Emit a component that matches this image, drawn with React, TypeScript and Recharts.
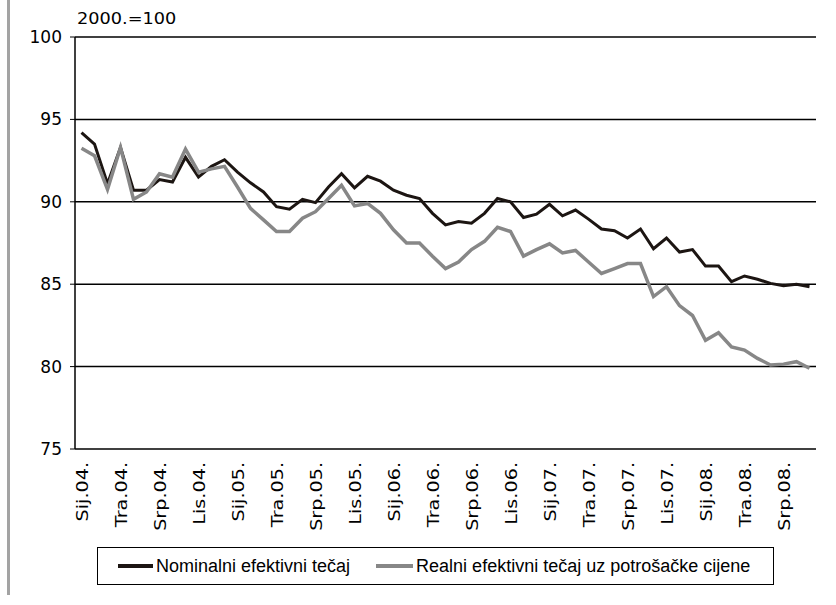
import { LineChart, Line, XAxis, YAxis, CartesianGrid } from "recharts";

// mjeseci od Sij.04. do Ruj.08.
const months = [
  "Sij.04.", "Vlj.04.", "Ožu.04.", "Tra.04.", "Svi.04.", "Lip.04.", "Srp.04.", "Kol.04.", "Ruj.04.", "Lis.04.", "Stu.04.", "Pro.04.",
  "Sij.05.", "Vlj.05.", "Ožu.05.", "Tra.05.", "Svi.05.", "Lip.05.", "Srp.05.", "Kol.05.", "Ruj.05.", "Lis.05.", "Stu.05.", "Pro.05.",
  "Sij.06.", "Vlj.06.", "Ožu.06.", "Tra.06.", "Svi.06.", "Lip.06.", "Srp.06.", "Kol.06.", "Ruj.06.", "Lis.06.", "Stu.06.", "Pro.06.",
  "Sij.07.", "Vlj.07.", "Ožu.07.", "Tra.07.", "Svi.07.", "Lip.07.", "Srp.07.", "Kol.07.", "Ruj.07.", "Lis.07.", "Stu.07.", "Pro.07.",
  "Sij.08.", "Vlj.08.", "Ožu.08.", "Tra.08.", "Svi.08.", "Lip.08.", "Srp.08.", "Kol.08.", "Ruj.08.",
];

const nominal = [
  94.2, 93.5, 91.1, 93.3, 90.7, 90.7, 91.35, 91.2, 92.7, 91.5, 92.15, 92.55,
  91.8, 91.15, 90.6, 89.7, 89.55, 90.15, 89.95, 90.9, 91.7, 90.85, 91.55, 91.25,
  90.7, 90.4, 90.2, 89.3, 88.6, 88.8, 88.7, 89.3, 90.2, 90.0, 89.05, 89.25,
  89.85, 89.15, 89.5, 88.95, 88.35, 88.25, 87.8, 88.35, 87.15, 87.8, 86.95, 87.1,
  86.1, 86.1, 85.15, 85.5, 85.3, 85.05, 84.9, 85.0, 84.85,
];

const real = [
  93.25, 92.8, 90.75, 93.3, 90.15, 90.6, 91.7, 91.5, 93.2, 91.8, 92.0, 92.15,
  90.9, 89.6, 88.9, 88.2, 88.2, 89.0, 89.4, 90.2, 91.0, 89.75, 89.9, 89.3,
  88.3, 87.5, 87.5, 86.7, 85.95, 86.35, 87.1, 87.6, 88.45, 88.2, 86.7, 87.1,
  87.45, 86.9, 87.05, 86.35, 85.65, 85.95, 86.25, 86.25, 84.25, 84.85, 83.7, 83.1,
  81.6, 82.05, 81.2, 81.0, 80.5, 80.1, 80.15, 80.3, 79.9,
];

const yTicks = [75, 80, 85, 90, 95, 100];
const labelledMonths = ["Sij", "Tra", "Srp", "Lis"];
const seriesNames = ["Nominalni efektivni tečaj", "Realni efektivni tečaj uz potrošačke cijene"];
const unitLabel = "2000.=100";

const data = months.map((m, i) => ({ idx: i, month: m, nominal: nominal[i], real: real[i] }));
const labelTicks = months
  .map((m, i) => (labelledMonths.includes(m.slice(0, 3)) ? i : -1))
  .filter((i) => i >= 0);
const boundaryTicks = months.map((_, i) => i - 0.5).concat(months.length - 0.5);
const xDomain = [-0.5, months.length - 0.5];

const BLACK = "#1c1512";
const GRAY = "#878787";
const FONT = "DejaVu Sans, Verdana, sans-serif";

const MonthTick = (props: any) => {
  const { x, y, payload } = props;
  const cx = x + 1;
  // labels in the original are stretched along their length
  return (
    <text
      x={0}
      y={0}
      transform={`translate(${cx}, ${y}) rotate(-90) scale(1.28, 1)`}
      textAnchor="end"
      dominantBaseline="central"
      fontFamily={FONT}
      fontSize={15}
      fill="#000"
    >
      {months[payload.value]}
    </text>
  );
};

export default function App() {
  return (
    <div style={{ position: "absolute", left: 0, top: 0, width: 836, height: 605, background: "#fff" }}>
      <div style={{ position: "absolute", left: 7, top: 0, width: 3, height: 595, background: "#a3a3a3" }} />
      <div
        style={{
          position: "absolute",
          left: 77,
          top: 10,
          fontFamily: FONT,
          fontSize: 15,
          color: "#000",
          transform: "scaleX(1.18)",
          transformOrigin: "left top",
        }}
      >
        {unitLabel}
      </div>
      <LineChart width={836} height={605} data={data} margin={{ top: 37, right: 20, left: 0, bottom: 56 }}>
        <CartesianGrid vertical={false} stroke="#000" strokeWidth={1.5} />
        <XAxis
          xAxisId="t"
          type="number"
          dataKey="idx"
          domain={xDomain}
          ticks={boundaryTicks}
          tick={false}
          tickSize={5}
          height={0}
          axisLine={{ stroke: "#000", strokeWidth: 1.5 }}
          tickLine={{ stroke: "#000", strokeWidth: 1 }}
          allowDataOverflow
        />
        <XAxis
          type="number"
          dataKey="idx"
          domain={xDomain}
          ticks={labelTicks}
          interval={0}
          tick={<MonthTick />}
          tickLine={false}
          axisLine={false}
          tickSize={0}
          tickMargin={13}
          height={100}
          allowDataOverflow
        />
        <YAxis
          domain={[75, 100]}
          ticks={yTicks}
          width={75}
          tickSize={5}
          tickMargin={8}
          axisLine={{ stroke: "#000", strokeWidth: 1.5 }}
          tickLine={{ stroke: "#000", strokeWidth: 1 }}
          tick={{ fill: "#000", fontSize: 17, fontFamily: FONT }}
          allowDataOverflow
        />
        <YAxis
          yAxisId="r"
          orientation="right"
          domain={[75, 100]}
          width={0}
          tick={false}
          tickLine={false}
          axisLine={{ stroke: "#000", strokeWidth: 1.5 }}
        />
        <Line
          dataKey="nominal"
          type="linear"
          stroke={BLACK}
          strokeWidth={3}
          dot={false}
          activeDot={false}
          isAnimationActive={false}
        />
        <Line
          dataKey="real"
          type="linear"
          stroke={GRAY}
          strokeWidth={3.5}
          dot={false}
          activeDot={false}
          isAnimationActive={false}
        />
      </LineChart>
      <div
        style={{
          position: "absolute",
          left: 97,
          top: 547,
          width: 677,
          height: 38,
          boxSizing: "border-box",
          border: "1.5px solid #000",
          display: "flex",
          alignItems: "center",
          fontFamily: "Liberation Sans, Arial, sans-serif",
          fontSize: 18,
          color: "#000",
          whiteSpace: "nowrap",
        }}
      >
        <span style={{ display: "inline-block", width: 35, height: 4, background: BLACK, marginLeft: 20, marginRight: 3 }} />
        <span>{seriesNames[0]}</span>
        <span style={{ display: "inline-block", width: 37, height: 4, background: GRAY, marginLeft: 26, marginRight: 3 }} />
        <span>{seriesNames[1]}</span>
      </div>
    </div>
  );
}
